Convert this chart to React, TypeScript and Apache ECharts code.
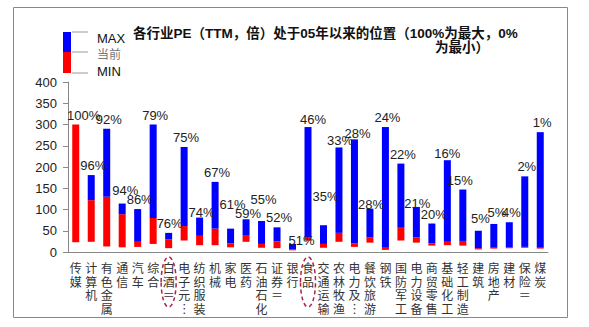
import React, { useEffect, useRef } from "react";
import * as echarts from "echarts";

const categories = [
  "传媒", "计算机", "有色金属", "通信", "汽车", "综合", "白酒Ⅱ", "电子元器件", "纺织服装", "机械",
  "家电", "医药", "石油石化", "证券Ⅱ", "银行", "食品", "交通运输", "农林牧渔", "电力及公用事业", "餐饮旅游",
  "钢铁", "国防军工", "电力设备", "商贸零售", "基础化工", "轻工制造", "建筑", "房地产", "建材", "保险Ⅱ", "煤炭",
];
const minValues = [23, 24, 13, 11, 12, 19, 9, 27, 16, 16, 11, 24, 10, 9, 4, 27, 10, 24, 12, 22, 5, 27, 22, 15, 16, 15, 6, 8, 9, 10, 8];
const currentValues = [300, 122, 130, 89, 24, 80, 30, 61, 38, 55, 20, 40, 19, 25, 6, 35, 19, 45, 20, 34, 10, 57, 34, 20, 24, 26, 9, 10, 11, 12, 10];
const maxValues = [300, 181, 290, 114, 101, 300, 45, 247, 81, 165, 55, 77, 73, 58, 19, 294, 63, 246, 265, 102, 294, 208, 106, 67, 216, 147, 50, 66, 70, 178, 282];
const positionPct = ["100%", "96%", "92%", "94%", "86%", "79%", "76%", "75%", "74%", "67%", "61%", "59%", "55%", "52%", "51%", "46%", "35%", "33%", "28%", "28%", "24%", "22%", "21%", "20%", "16%", "15%", "5%", "5%", "4%", "2%", "1%"];
const yTicks = { min: 0, max: 400, interval: 50 };
const highlighted = ["白酒Ⅱ", "食品"];
const legendItems = ["MAX", "当前", "MIN"];
const titleLines = ["各行业PE（TTM，倍）处于05年以来的位置（100%为最大，0%", "为最小）"];

// label nudges (style only)
const labelNudge: Record<number, [number, number]> = {
  0: [8, 0], 3: [3, -4], 6: [1, 0], 8: [2, 4], 10: [2, -15], 11: [2, 4], 12: [2, -12],
  14: [9, 6], 15: [5, 2], 16: [2, -19], 17: [1, 3], 18: [3, 4], 19: [1, 5], 21: [2, 0],
  22: [1, 6], 24: [0, 3], 25: [-3, 0], 26: [2, -3], 27: [3, -2],
};

const FONT = "Liberation Sans, Arial, Noto Sans CJK SC";

function displayLabel(name: string) {
  let s = name.replace(/Ⅱ/g, "＝");
  if (s.length > 4) s = s.slice(0, 3) + "︙";
  return s.split("").join("\n");
}

export default function App() {
  const ref = useRef<HTMLDivElement>(null);
  useEffect(() => {
    const chart = echarts.init(ref.current!, null, { renderer: "svg" });
    const redPart = currentValues.map((c, i) => c - minValues[i]);
    const bluePart = maxValues.map((m, i) => m - currentValues[i]);
    const blueData = bluePart.map((v, i) => {
      const n = labelNudge[i] || [2, 0];
      return { value: v, label: { offset: n } };
    });

    const baseGraphic: any[] = [
      { type: "rect", shape: { x: 13.5, y: 7.5, width: 554, height: 310 }, style: { fill: "none", stroke: "#888", lineWidth: 1 } },
      { type: "rect", shape: { x: 63, y: 32, width: 8, height: 20 }, style: { fill: "#0000FF" } },
      { type: "rect", shape: { x: 63, y: 52, width: 8, height: 21 }, style: { fill: "#FF0000" } },
      { type: "line", shape: { x1: 72, y1: 32, x2: 88, y2: 32 }, style: { stroke: "#999", lineWidth: 1 } },
      { type: "line", shape: { x1: 72, y1: 52, x2: 88, y2: 52 }, style: { stroke: "#999", lineWidth: 1 } },
      { type: "line", shape: { x1: 72, y1: 73, x2: 88, y2: 73 }, style: { stroke: "#999", lineWidth: 1 } },
      { type: "text", x: 97, y: 38, style: { text: legendItems[0], fontSize: 13, fontFamily: FONT, fill: "#111", textVerticalAlign: "middle" } },
      { type: "text", x: 97, y: 55, style: { text: legendItems[1], fontSize: 12, fontFamily: FONT, fill: "#777", textVerticalAlign: "middle" } },
      { type: "text", x: 97, y: 71, style: { text: legendItems[2], fontSize: 13, fontFamily: FONT, fill: "#111", textVerticalAlign: "middle" } },
      { type: "text", x: 133, y: 33, style: { text: titleLines[0], fontSize: 13.5, fontWeight: "bold", fontFamily: FONT, fill: "#111", textVerticalAlign: "middle" } },
      { type: "text", x: 435, y: 47, style: { text: titleLines[1], fontSize: 13.5, fontWeight: "bold", fontFamily: FONT, fill: "#111", textVerticalAlign: "middle" } },
    ];

    const option: any = {
      animation: false,
      grid: { left: 68, right: 41, top: 82, bottom: 75 },
      xAxis: {
        type: "category",
        data: categories,
        axisLine: { lineStyle: { color: "#888" } },
        axisTick: { length: 4, lineStyle: { color: "#888" } },
        axisLabel: {
          interval: 0,
          formatter: (v: string) => displayLabel(v),
          fontSize: 12,
          lineHeight: 13.5,
          color: "#333",
          margin: 9,
          fontFamily: "Noto Sans CJK SC",
        },
      },
      yAxis: {
        type: "value",
        min: yTicks.min,
        max: yTicks.max,
        interval: yTicks.interval,
        axisLine: { show: true, lineStyle: { color: "#888" } },
        axisTick: { show: true, length: 5, lineStyle: { color: "#888" } },
        splitLine: { show: false },
        axisLabel: { fontSize: 13, color: "#222", margin: 11, fontFamily: FONT },
      },
      series: [
        { type: "bar", stack: "s", data: minValues, barWidth: 7, itemStyle: { color: "transparent" }, silent: true },
        { type: "bar", stack: "s", data: redPart, barWidth: 7, itemStyle: { color: "#FF0000" } },
        {
          type: "bar", stack: "s", data: blueData, barWidth: 7, itemStyle: { color: "#0000FF" },
          label: {
            show: true, position: "top", distance: 3,
            formatter: (p: any) => positionPct[p.dataIndex],
            fontSize: 13, color: "#222", fontFamily: FONT,
          },
        },
      ],
      graphic: baseGraphic,
    };
    chart.setOption(option);

    const ellipses = highlighted.map((name) => {
      const cx = chart.convertToPixel({ xAxisIndex: 0 } as any, name) as unknown as number;
      return {
        type: "ellipse",
        shape: { cx, cy: 282, rx: 7.5, ry: 25 },
        style: { fill: "none", stroke: "#B0204A", lineWidth: 1.5, lineDash: [4, 3] },
      };
    });
    chart.setOption({ graphic: [...baseGraphic, ...ellipses] }, { replaceMerge: ["graphic"] } as any);

    return () => chart.dispose();
  }, []);
  return <div ref={ref} style={{ position: "fixed", left: 0, top: 0, width: 589, height: 327, background: "#fff" }} />;
}
